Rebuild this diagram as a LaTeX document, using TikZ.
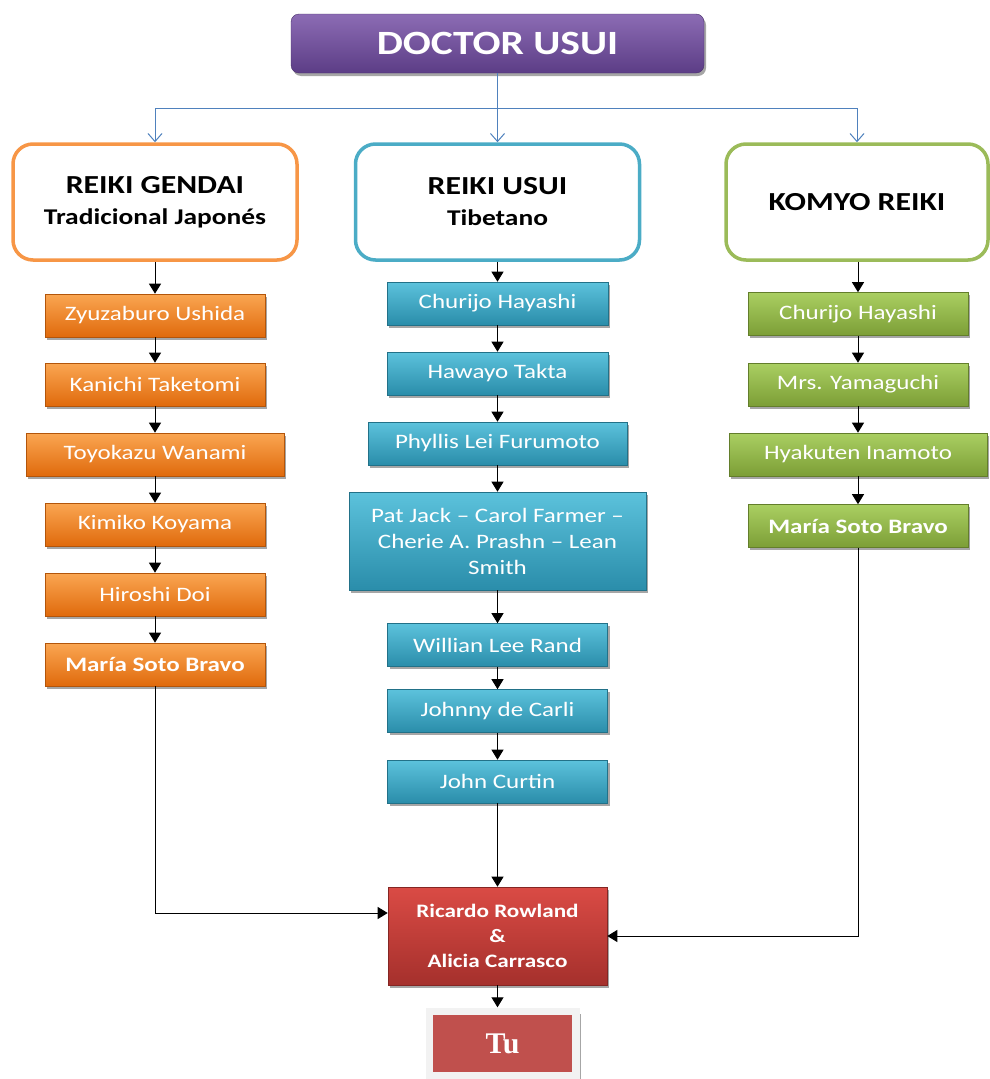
\documentclass[tikz,border=0pt]{standalone}
\usepackage{fontspec}
\setmainfont{Carlito}[FakeStretch=1.22]
\newfontfamily\tufont{Liberation Serif}
\usetikzlibrary{arrows.meta,shadows,calc}
\definecolor{orT}{HTML}{FAA652}
\definecolor{orB}{HTML}{E06A0C}
\definecolor{orL}{HTML}{F79646}
\definecolor{teT}{HTML}{5CC2DC}
\definecolor{teB}{HTML}{2A8DAA}
\definecolor{teL}{HTML}{4BACC6}
\definecolor{grT}{HTML}{AACF62}
\definecolor{grB}{HTML}{7C9E36}
\definecolor{grL}{HTML}{9BBB59}
\definecolor{reT}{HTML}{DA4B45}
\definecolor{reB}{HTML}{A5302C}
\definecolor{puT}{HTML}{8C6CB4}
\definecolor{puB}{HTML}{5C3D86}
\definecolor{tuR}{HTML}{C0504D}
\definecolor{blueL}{HTML}{4F81BD}
\tikzset{
  pbox/.style={rectangle, inner sep=2pt, minimum height=43pt, text=white, align=center,
    font=\fontsize{20.5}{26}\selectfont,
    drop shadow={shadow xshift=2pt, shadow yshift=-2.5pt, opacity=0.35, fill=black}},
  obox/.style={pbox, top color=orT, bottom color=orB, draw=orB!80!black, line width=0.6pt},
  tbox/.style={pbox, top color=teT, bottom color=teB, draw=teB!80!black, line width=0.6pt},
  gbox/.style={pbox, top color=grT, bottom color=grB, draw=grB!80!black, line width=0.6pt},
  hbox/.style={rectangle, rounded corners=20pt, fill=white, line width=3.5pt, minimum width=284pt,
    minimum height=116pt, align=center, text=black,
    font=\fontsize{26}{31}\selectfont\bfseries,
    drop shadow={shadow xshift=1pt, shadow yshift=-1.5pt, opacity=0.15, fill=black}},
  arr/.style={-{Triangle[length=10pt,width=12pt]}, line width=1pt, black},
  barr/.style={-{Straight Barb[length=8pt,width=14pt]}, draw=blueL, line width=1pt},
}
\begin{document}
\begin{tikzpicture}[x=1pt,y=-1pt]
\useasboundingbox (0,0) rectangle (989,1079);

% top
\node[rectangle, rounded corners=8pt, top color=puT, bottom color=puB, draw=puB!80!black,
  minimum width=413pt, minimum height=59pt, text=white,
  font=\fontsize{34}{40}\selectfont\bfseries,
  drop shadow={shadow xshift=2pt, shadow yshift=-3pt, opacity=0.35, fill=black}]
  (doc) at (497.5,43.5) {DOCTOR USUI};

% headers
\node[hbox, draw=orL] (gendai) at (155,202)
  {REIKI GENDAI\\{\fontsize{22.5}{27}\selectfont Tradicional Japonés}};
\node[hbox, draw=teL] (usui) at (497.5,202)
  {REIKI USUI\\{\fontsize{22.5}{27}\selectfont Tibetano}};
\node[hbox, draw=grL, minimum width=262pt] (komyo) at (857,202)
  {KOMYO REIKI};

% blue connectors
\coordinate (j) at (497.5,108);
\draw[barr] (doc.south) -- (usui.north);
\draw[barr] (j) -| (gendai.north);
\draw[barr] (j) -| (komyo.north);

% left column
\node[obox, minimum width=220pt] (z1) at (155,315.5) {Zyuzaburo Ushida};
\node[obox, minimum width=220pt] (z2) at (155,384.5) {Kanichi Taketomi};
\node[obox, minimum width=258pt] (z3) at (155,454.5) {Toyokazu Wanami};
\node[obox, minimum width=220pt] (z4) at (155,524.5) {Kimiko Koyama};
\node[obox, minimum width=220pt] (z5) at (155,594.5) {Hiroshi Doi};
\node[obox, minimum width=220pt, font=\fontsize{20.5}{26}\selectfont\bfseries] (z6) at (155,664.5) {María Soto Bravo};

% middle column
\node[tbox, minimum width=221pt] (u1) at (497.5,303.5) {Churijo Hayashi};
\node[tbox, minimum width=221pt] (u2) at (497.5,373.5) {Hawayo Takta};
\node[tbox, minimum width=259pt] (u3) at (497.5,443.5) {Phyllis Lei Furumoto};
\node[tbox, minimum width=297pt, minimum height=98pt] (u4) at (497.5,541)
  {Pat Jack – Carol Farmer –\\Cherie A. Prashn – Lean\\Smith};
\node[tbox, minimum width=220pt] (u5) at (497.5,645) {Willian Lee Rand};
\node[tbox, minimum width=220pt] (u6) at (497.5,711) {Johnny de Carli};
\node[tbox, minimum width=220pt] (u7) at (497.5,781.5) {John Curtin};

% right column
\node[gbox, minimum width=220pt] (k1) at (858,314) {Churijo Hayashi};
\node[gbox, minimum width=220pt] (k2) at (858,384.5) {Mrs. Yamaguchi};
\node[gbox, minimum width=258pt] (k3) at (858,454.5) {Hyakuten Inamoto};
\node[gbox, minimum width=220pt, font=\fontsize{20.5}{26}\selectfont\bfseries] (k4) at (858,526) {María Soto Bravo};

% bottom
\node[pbox, top color=reT, bottom color=reB, draw=reB!80!black, line width=0.6pt,
  minimum width=219pt, minimum height=98pt, font=\fontsize{19}{25}\selectfont\bfseries]
  (ric) at (497.5,936) {Ricardo Rowland\\\&\\Alicia Carrasco};
\node[rectangle, fill=black!5, minimum width=154pt, minimum height=72pt, inner sep=0pt] (tuframe) at (503,1043.5) {};
\draw[black!35, line width=1.2pt] ($(tuframe.north east)+(0,7)$) -- (tuframe.south east);
\node[rectangle, fill=tuR, minimum width=139pt, minimum height=57pt, text=white,
  font=\tufont\fontsize{30}{34}\selectfont\bfseries] (tu) at (502.5,1043.5) {Tu};

% black connectors
\draw[arr] (gendai.south) -- (z1.north);
\draw[arr] (z1.south) -- (z2.north);
\draw[arr] (z2.south) -- (z3.north);
\draw[arr] (z3.south) -- (z4.north);
\draw[arr] (z4.south) -- (z5.north);
\draw[arr] (z5.south) -- (z6.north);
\draw[arr] (usui.south) -- (u1.north);
\draw[arr] (u1.south) -- (u2.north);
\draw[arr] (u2.south) -- (u3.north);
\draw[arr] (u3.south) -- (u4.north);
\draw[arr] (u4.south) -- (u5.north);
\draw[arr] (u5.south) -- (u6.north);
\draw[arr] (u6.south) -- (u7.north);
\draw[arr] (komyo.south -| k1.north) -- (k1.north);
\draw[arr] (k1.south) -- (k2.north);
\draw[arr] (k2.south) -- (k3.north);
\draw[arr] (k3.south) -- (k4.north);
\draw[arr] (u7.south) -- (ric.north);
\draw[arr] (z6.south) |- ($(ric.west)+(0,-23)$);
\draw[arr] (k4.south) |- (ric.east);
\draw[arr] (ric.south) -- (ric.south |- tuframe.north);
\end{tikzpicture}
\end{document}
